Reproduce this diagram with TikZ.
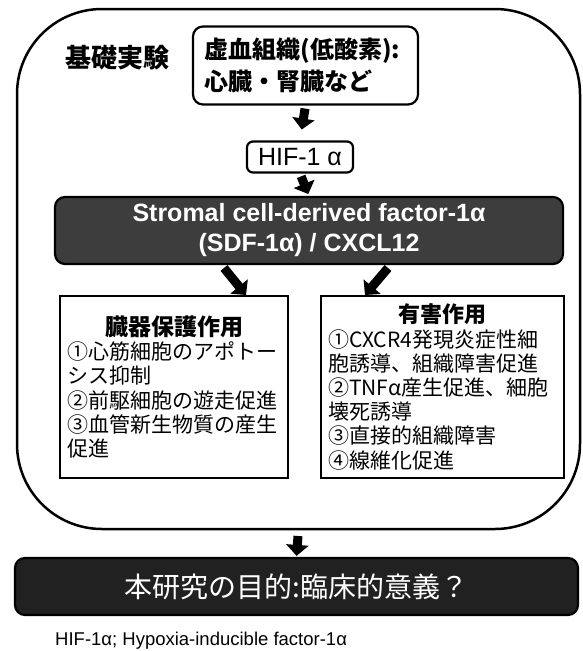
\documentclass[tikz,border=0pt]{standalone}
\usepackage{fontspec}
\setmainfont{Liberation Sans}
\newfontfamily\cjk{Noto Sans CJK JP}
\usetikzlibrary{arrows.meta}
\tikzset{
  blk/.style={line width=9pt, -{Triangle[width=22pt,length=11pt]}, draw=black},
  whitebox/.style={draw=black, line width=2.2pt, fill=white},
  rbox/.style={whitebox, rounded corners=10pt},
  sqbox/.style={whitebox, line width=2.6pt},
  darkbox/.style={draw=black, line width=2.2pt, rounded corners=10pt, text=white},
  jtext/.style={font=\cjk\fontsize{21}{24.2}\selectfont},
}
\begin{document}
\begin{tikzpicture}[x=1pt,y=-1pt]
\useasboundingbox (0,0) rectangle (582,651);

% outer rounded frame
\node[draw=black, line width=2.5pt, rounded corners=85pt, minimum width=563pt,
      minimum height=520pt, anchor=north west, inner sep=0pt, outer sep=0pt] (outer) at (17,9) {};

\node[font=\cjk\bfseries\fontsize{26}{30}\selectfont] (kiso) at (117,58) {基礎実験};

\node[rbox, minimum width=225pt, minimum height=78pt, text width=202pt, align=left,
      inner sep=0pt, font=\cjk\bfseries\fontsize{24}{32}\selectfont] (top) at (305.5,65.5)
      {虚血組織(低酸素):\\心臓・腎臓など};

\node[whitebox, rounded corners=6pt, minimum width=106pt, minimum height=31pt, inner sep=0pt,
      font=\fontsize{25}{28}\selectfont] (hif) at (300,157) {HIF-1 α};

\node[darkbox, fill=black!76, minimum width=508pt, minimum height=67pt, align=center, inner sep=0pt,
      font=\bfseries\fontsize{25}{30}\selectfont] (sdf) at (309,230.5)
      {Stromal cell-derived factor-1α\\(SDF-1α) / CXCL12};

\node[sqbox, minimum width=228pt, minimum height=182pt, text width=214pt, align=left, inner sep=0pt,
      jtext] (prot) at (174,387)
      {{\centering\bfseries\fontsize{23}{25}\selectfont 臓器保護作用\par}
       ①心筋細胞のアポトー\\シス抑制\\②前駆細胞の遊走促進\\③血管新生物質の産生\\促進};

\node[sqbox, minimum width=243pt, minimum height=182pt, text width=229pt, align=left, inner sep=0pt,
      jtext] (harm) at (442.5,387)
      {{\centering\bfseries\fontsize{22}{26}\selectfont 有害作用\par}
       ①CXCR4発現炎症性細\\胞誘導、組織障害促進\\②TNFα産生促進、細胞\\壊死誘導\\③直接的組織障害\\④線維化促進};

\node[darkbox, fill=black!87, minimum width=563pt, minimum height=57pt, inner sep=0pt,
      font=\cjk\fontsize{28}{32}\selectfont] (goal) at (296.5,586.5) {本研究の目的:臨床的意義？};

\node[anchor=west, inner sep=0pt, font=\fontsize{18.5}{22}\selectfont] (note) at (55,640.5)
      {HIF-1α; Hypoxia-inducible factor-1α};

% block arrows
\draw[blk, shorten <=3pt, shorten >=11pt] (top.south) -- (hif.north);
\draw[blk, shorten <=3pt, shorten >=2pt] (hif.south) -- (sdf.north);
\coordinate (la1) at (224,268);
\coordinate (la2) at (246,295);
\coordinate (ra1) at (388,268);
\coordinate (ra2) at (365,295);
\draw[blk] (la1) -- (la2);
\draw[blk] (ra1) -- (ra2);
\draw[blk, shorten <=7pt, shorten >=1pt] (outer.south) -- (goal.north);
\end{tikzpicture}
\end{document}
